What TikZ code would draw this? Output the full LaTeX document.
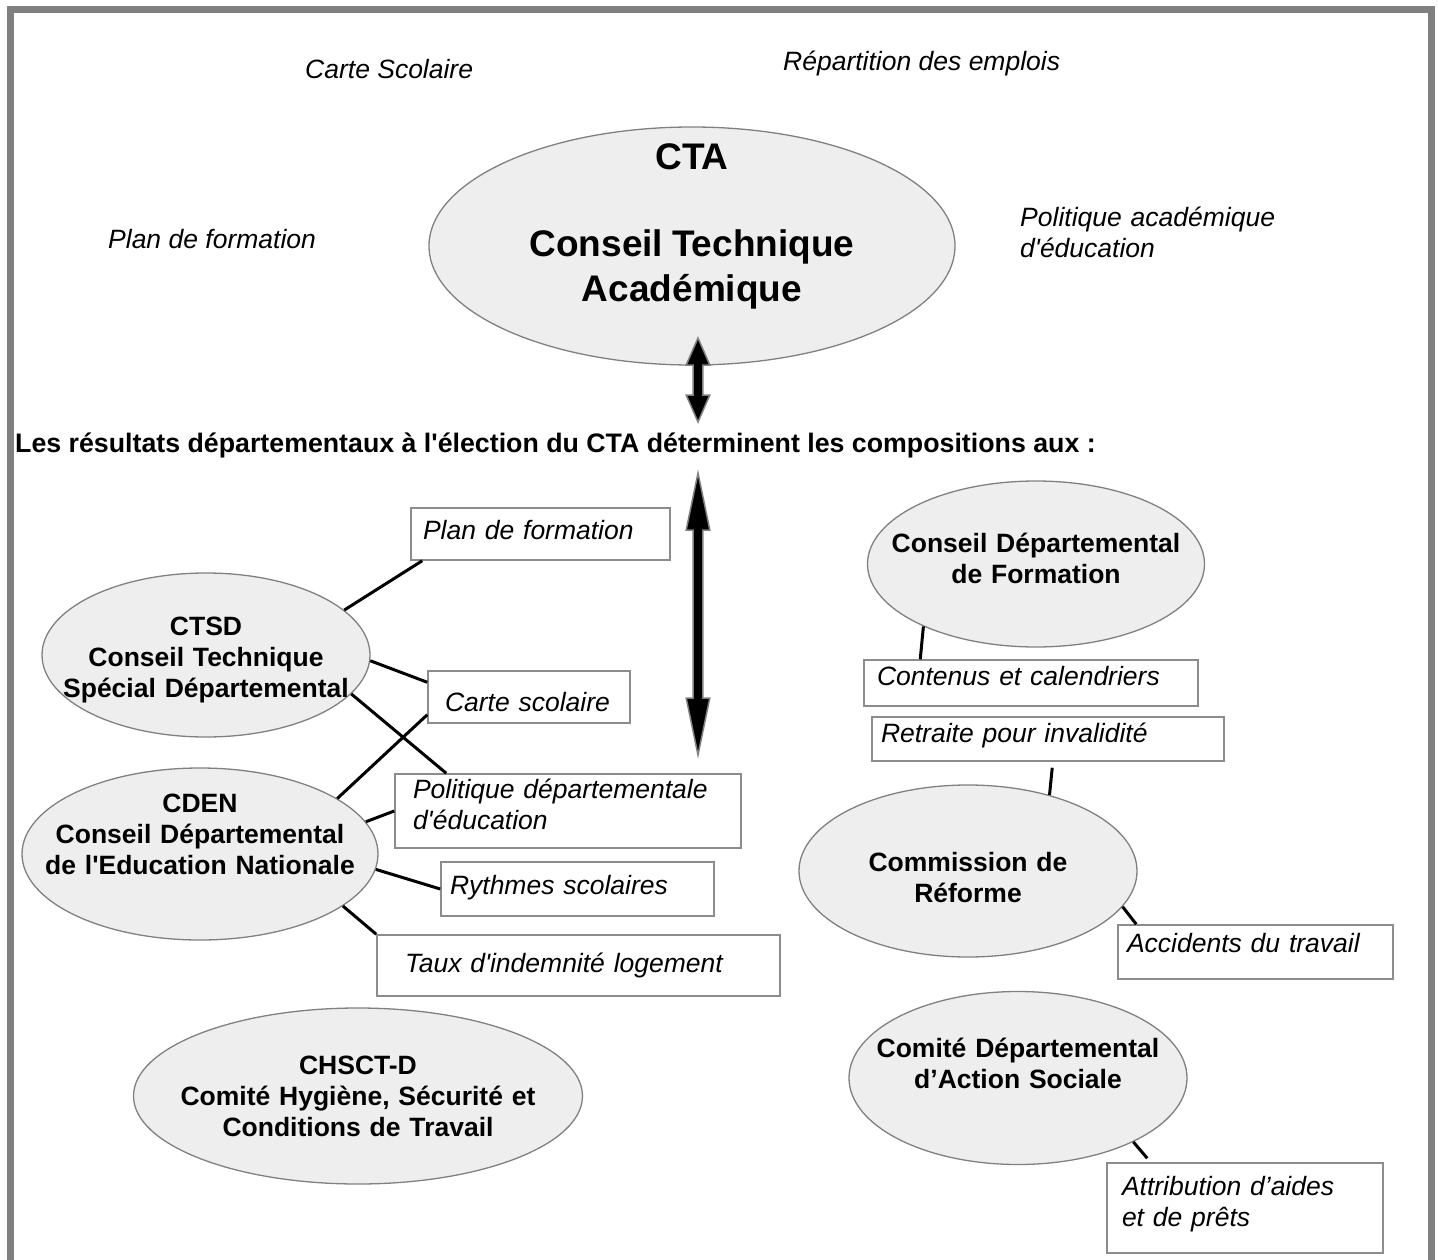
\documentclass[tikz,border=0pt]{standalone}
\usepackage{fontspec}
\setmainfont{Liberation Sans}
\usetikzlibrary{shapes.geometric,calc}
\definecolor{framegray}{RGB}{128,128,128}
\definecolor{ellfill}{RGB}{238,238,238}
\definecolor{ellgray}{RGB}{128,128,128}
\definecolor{boxgray}{RGB}{140,140,140}
\newcommand\bodyfont{\fontsize{26.5pt}{31pt}\selectfont}
\newcommand\straightq{\textquotesingle}
% two-headed block arrow between two tips, #3 = head length
\newcommand\twoway[3]{%
  \filldraw[fill=black, draw=framegray, line width=1.5pt]
    (#1) -- ($(#1)+(11.8,#3)$) -- ($(#1)+(4.8,#3)$) -- ($(#2)+(4.8,-#3)$)
    -- ($(#2)+(11.8,-#3)$) -- (#2) -- ($(#2)+(-11.8,-#3)$) -- ($(#2)+(-4.8,-#3)$)
    -- ($(#1)+(-4.8,#3)$) -- ($(#1)+(-11.8,#3)$) -- cycle;}
\begin{document}
\begin{tikzpicture}[x=1pt, y=-1pt,
    orgell/.style={ellipse, draw=ellgray, fill=ellfill, line width=1.3pt,
      inner xsep=-200pt, inner ysep=0pt, text width=400pt, align=center,
      font=\bodyfont\bfseries},
    infobox/.style={rectangle, draw=boxgray, line width=1.5pt, fill=white,
      inner ysep=0pt, align=left, font=\bodyfont\itshape},
    freelabel/.style={inner sep=0pt, anchor=base west, font=\bodyfont\itshape},
    link/.style={line width=3pt}]
  \useasboundingbox (0,0) rectangle (1438,1260);
  \clip (0,0) rectangle (1438,1260);
  \draw[framegray, line width=7pt] (10.5,9.5) rectangle (1431.5,1300);

  % texts round the CTA
  \node[freelabel] (cartesco) at (305,79) {Carte Scolaire};
  \node[freelabel] (repart) at (783,71) {Répartition des emplois};
  \node[freelabel] (planform) at (108,249) {Plan de formation};
  \node[freelabel, text width=300pt, align=left] (politaca) at (1020,227)
    {Politique académique\\ d\straightq éducation};

  \node[orgell, minimum width=526pt, minimum height=238pt,
    text height=0pt, text depth=152pt] (cta) at (692,246)
    {\fontsize{37pt}{45pt}\selectfont CTA\\[42pt] Conseil Technique\\[9pt] Académique};

  \node[inner sep=0pt, anchor=base west, font=\fontsize{26.75pt}{31pt}\selectfont\bfseries] (resultats) at (15,452)
    {Les résultats départementaux à l\straightq élection du CTA déterminent les compositions aux :};

  \coordinate (upA) at (698,338);
  \coordinate (downA) at (698,422);
  \coordinate (upB) at (698,473);
  \coordinate (downB) at (698,755);
  \twoway{upA}{downA}{27}
  \twoway{upB}{downB}{57}

  % left side
  \node[orgell, minimum width=328pt, minimum height=164pt,
    text height=0pt, text depth=39pt] (ctsd) at (206,655)
    {CTSD\\ Conseil Technique\\ Spécial Départemental};
  \node[orgell, minimum width=356pt, minimum height=172pt,
    text height=0pt, text depth=83pt] (cden) at (200,854)
    {CDEN\\ Conseil Départemental\\ de l\straightq Education Nationale};
  \node[orgell, minimum width=449pt, minimum height=176pt,
    text height=0pt, text depth=43pt] (chsct) at (358,1096)
    {CHSCT-D\\ Comité Hygiène, Sécurité et\\ Conditions de Travail};

  \node[infobox, minimum width=259pt, minimum height=52pt, inner xsep=12pt,
    text width=235pt, text height=11pt, text depth=0pt] (plan) at (540.5,534) {Plan de formation};
  \node[infobox, minimum width=202pt, minimum height=52pt, inner xsep=17pt,
    text width=168pt, text height=29pt, text depth=0pt] (carte) at (529,697) {Carte scolaire};
  \node[infobox, minimum width=346pt, minimum height=74pt, inner xsep=18pt,
    text width=310pt, text height=0pt, text depth=26pt] (polit) at (568,811)
    {Politique départementale\\ d\straightq éducation};
  \node[infobox, minimum width=273pt, minimum height=54pt, inner xsep=9pt,
    text width=255pt, text height=11pt, text depth=0pt] (rythmes) at (577.5,889) {Rythmes scolaires};
  \node[infobox, minimum width=403pt, minimum height=61pt, inner xsep=28pt,
    text width=347pt, text height=13pt, text depth=0pt] (taux) at (578.5,965.5)
    {Taux d\straightq indemnité logement};

  \draw[link] (ctsd.18) -- ([xshift=12pt]plan.south west);
  \draw[link] (ctsd.-2) -- ([yshift=-12pt]carte.north west);
  \draw[link] (ctsd.-15) -- ([xshift=52pt]polit.north west);
  \draw[link] (cden.22) -- ([yshift=9pt]carte.south west);
  \draw[link] (cden.11) -- (polit.west);
  \draw[link] (cden.-5) -- (rythmes.west);
  \draw[link] (cden.-20) -- (taux.north west);

  % right side
  \node[orgell, minimum width=337pt, minimum height=166pt,
    text height=0pt, text depth=23pt] (cdf) at (1036,564)
    {Conseil Départemental\\ de Formation};
  \node[orgell, minimum width=338pt, minimum height=172pt,
    text height=1pt, text depth=0pt] (reforme) at (968,871)
    {Commission de\\ Réforme};
  \node[orgell, minimum width=338pt, minimum height=173pt,
    text height=0pt, text depth=41pt] (cdas) at (1018,1078)
    {Comité Départemental\\ d’Action Sociale};

  \node[infobox, minimum width=334pt, minimum height=46pt, inner xsep=13pt,
    text width=308pt, text height=4pt, text depth=0pt] (contenus) at (1031,683) {Contenus et calendriers};
  \node[infobox, minimum width=352pt, minimum height=44pt, inner xsep=9pt,
    text width=334pt, text height=6pt, text depth=0pt] (retraite) at (1048,739) {Retraite pour invalidité};
  \node[infobox, minimum width=275pt, minimum height=54pt, inner xsep=9pt,
    text width=257pt, text height=0pt, text depth=0pt] (accidents) at (1255.5,952) {Accidents du travail};
  \node[infobox, minimum width=276pt, minimum height=90pt, inner xsep=15pt,
    text width=246pt, text height=0pt, text depth=26pt] (attrib) at (1245,1208)
    {Attribution d’aides\\ et de prêts};

  \draw[link] (cdf.209) -- ([xshift=57pt]contenus.north west);
  \draw[link] ([xshift=181pt,yshift=-6pt]retraite.south west) -- (reforme.43);
  \draw[link] (reforme.-13) -- ([xshift=19pt]accidents.north west);
  \draw[link] (cdas.-29) -- ([xshift=41pt,yshift=4pt]attrib.north west);
\end{tikzpicture}
\end{document}
